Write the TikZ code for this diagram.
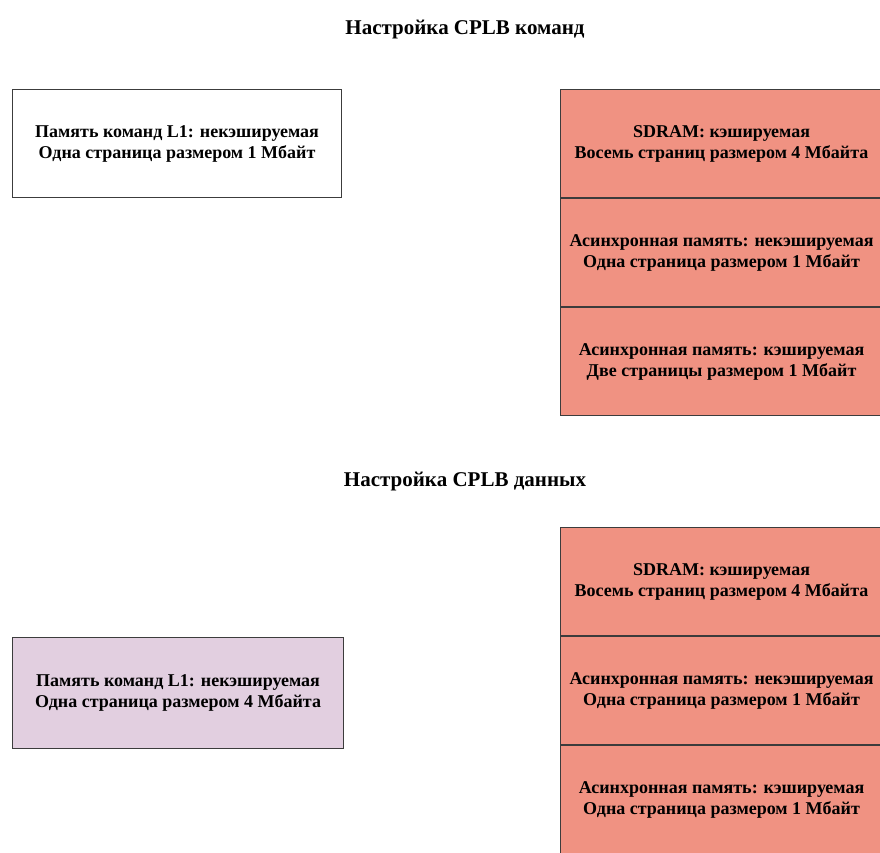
\documentclass[tikz,border=0pt]{standalone}
\usepackage{fontspec}
\setmainfont{Liberation Serif}
\usetikzlibrary{positioning}
\definecolor{cplbsalmon}{HTML}{F09282}
\definecolor{cplblilac}{HTML}{E2CFE0}
\definecolor{cplbedge}{HTML}{3C3C3C}
\tikzset{
  membox/.style={
    draw=cplbedge,
    line width=1.1pt,
    fill=white,
    align=center,
    minimum width=329pt,
    minimum height=108pt,
    inner sep=0pt,
    anchor=north west,
    font=\fontsize{18}{21}\selectfont\bfseries
  },
  pagebox/.style={
    membox,
    fill=cplbsalmon,
    minimum width=322pt,
    minimum height=108pt
  },
  cfgtitle/.style={
    font=\fontsize{21}{24}\selectfont\bfseries
  }
}
\begin{document}
\begin{tikzpicture}[x=1pt,y=1pt,node distance=0pt]
    \useasboundingbox (0,0) rectangle (880,-852);
    % command CPLBs
    \node[cfgtitle] (cmdtitle) at (465,-30) {Настройка CPLB команд};
    \node[membox] (cmdL1) at (12,-89) {Память команд L1: некэшируемая\\Одна страница размером 1 Мбайт};
    \node[pagebox] (cmdSdram) at (560,-89) {SDRAM: кэшируемая\\Восемь страниц размером 4 Мбайта};
    \node[pagebox, below=of cmdSdram] (cmdAsyncNc) {Асинхронная память: некэшируемая\\Одна страница размером 1 Мбайт};
    \node[pagebox, below=of cmdAsyncNc] (cmdAsyncC) {Асинхронная память: кэшируемая\\Две страницы размером 1 Мбайт};
    % data CPLBs
    \node[cfgtitle] (datatitle) at (465,-481) {Настройка CPLB данных};
    \node[membox, fill=cplblilac, minimum width=331pt, minimum height=111pt] (dataL1) at (12,-637) {Память команд L1: некэшируемая\\Одна страница размером 4 Мбайта};
    \node[pagebox] (dataSdram) at (560,-527) {SDRAM: кэшируемая\\Восемь страниц размером 4 Мбайта};
    \node[pagebox, below=of dataSdram] (dataAsyncNc) {Асинхронная память: некэшируемая\\Одна страница размером 1 Мбайт};
    \node[pagebox, below=of dataAsyncNc] (dataAsyncC) {Асинхронная память: кэшируемая\\Одна страница размером 1 Мбайт};
  \end{tikzpicture}
\end{document}
